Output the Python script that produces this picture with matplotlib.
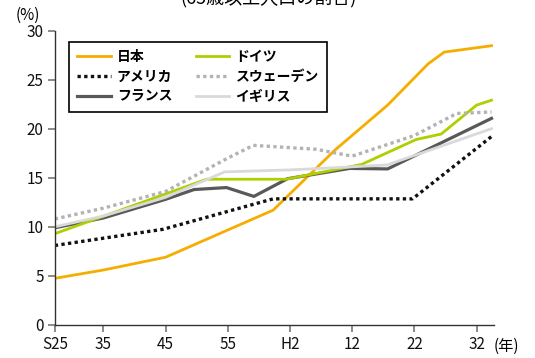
import matplotlib
matplotlib.use("Agg")
import matplotlib.pyplot as plt

plt.rcParams['font.family'] = ['Noto Sans CJK JP', 'DejaVu Sans']

# 高齢化率の推移（65歳以上人口の割合, %）
japan_x = [1952.2, 1960, 1970, 1987.3, 1997.2, 2005.7, 2012.2, 2014.8, 2022.4]
japan_y = [4.75, 5.6, 6.9, 11.7, 17.8, 22.4, 26.6, 27.8, 28.45]

usa_x = [1952.2, 1969.6, 1987.3, 2009.7, 2022.4]
usa_y = [8.1, 9.75, 12.85, 12.85, 19.2]

france_x = [1952.2, 1960, 1970, 1974.6, 1979.8, 1984.2, 1989.6, 1999.6, 2005.7, 2022.4]
france_y = [9.9, 10.9, 12.8, 13.8, 14.0, 13.1, 14.9, 15.95, 15.9, 21.05]

germany_x = [1952.2, 1976.6, 1989.4, 2001.5, 2010.3, 2014.3, 2020.0, 2022.4]
germany_y = [9.3, 14.85, 14.85, 16.35, 18.9, 19.45, 22.4, 22.9]

sweden_x = [1952.2, 1960, 1970, 1980, 1984.1, 1994.2, 2000, 2010, 2016.8, 2022.4]
sweden_y = [10.8, 11.9, 13.6, 17.0, 18.3, 17.9, 17.2, 19.3, 21.55, 21.7]

uk_x = [1952.2, 1960, 1970, 1979.5, 1990, 1999.6, 2005.6, 2022.4]
uk_y = [10.0, 11.1, 13.0, 15.6, 15.8, 16.1, 16.3, 20.0]

tick_pos = [1952.2, 1960, 1970, 1980, 1990, 2000, 2010, 2020]
tick_labels = ['S25', '35', '45', '55', 'H2', '12', '22', '32']

fig = plt.figure(figsize=(5.35, 3.58), dpi=100)
ax = fig.add_axes([0.1024, 0.0922, 0.8210, 0.8226])

ax.plot(japan_x, japan_y, color='#F5AE00', lw=2.0, label='日本')
ax.plot(usa_x, usa_y, color='#111111', lw=2.4, ls=(0, (1, 1)), label='アメリカ')
ax.plot(france_x, france_y, color='#595959', lw=2.3, label='フランス')
ax.plot(germany_x, germany_y, color='#AECF00', lw=2.0, label='ドイツ')
ax.plot(sweden_x, sweden_y, color='#B3B3B3', lw=2.4, ls=(0, (1, 1)), label='スウェーデン')
ax.plot(uk_x, uk_y, color='#D9D9D9', lw=2.0, label='イギリス')

ax.set_xlim(1952.2, 2022.8)
ax.set_ylim(0, 30)
ax.set_yticks([0, 5, 10, 15, 20, 25, 30])
ax.set_xticks(tick_pos)
ax.set_xticklabels(tick_labels)

for side in ['top', 'right']:
    ax.spines[side].set_visible(False)
for side in ['left', 'bottom']:
    ax.spines[side].set_color('#333333')
    ax.spines[side].set_linewidth(1.0)
ax.tick_params(axis='both', length=5, width=1.2, color='#777777',
               labelsize=11, labelcolor='#111111', pad=3)

leg = ax.legend(ncol=2, loc='upper left', bbox_to_anchor=(0.032, 0.961),
                borderaxespad=0, frameon=True, fancybox=False,
                edgecolor='black', framealpha=1, handlelength=2.4,
                handletextpad=0.45, columnspacing=1.7, labelspacing=0.42,
                borderpad=0.6, prop={'size': 10, 'weight': 'bold'})
leg.get_frame().set_linewidth(1.2)

fig.text(28 / 535, 1 - 15 / 358, '(%)', ha='center', va='center', fontsize=11)
fig.text(506 / 535, 1 - 346 / 358, '(年)', ha='center', va='center', fontsize=11)
fig.text(269 / 535, 1 - 7 / 358, '(65歳以上人口の割合)', ha='center', va='bottom',
         fontsize=13)

fig.savefig('out.png', dpi=100)
